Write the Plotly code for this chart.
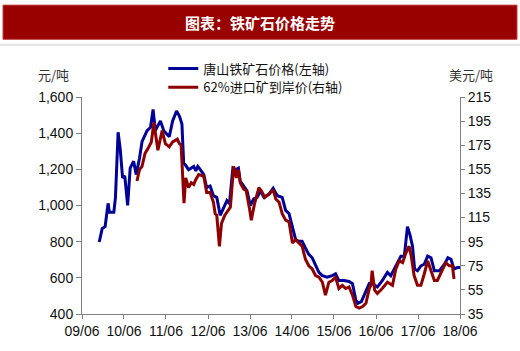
import plotly.graph_objects as go

# Tangshan iron ore price (CNY/t, left axis)
ts_dates = ["2009-10-29","2009-11-24","2009-12-19","2010-01-14","2010-01-25","2010-03-05","2010-03-19",
            "2010-04-11","2010-04-29","2010-05-20","2010-06-08","2010-07-03","2010-07-25","2010-08-24",
            "2010-09-15","2010-10-14","2010-11-05","2010-12-19","2011-01-18","2011-02-09","2011-03-01",
            "2011-04-14","2011-05-13","2011-06-30","2011-07-29","2011-09-01","2011-09-26","2011-10-18",
            "2011-11-02","2011-11-16","2011-12-15","2012-01-29","2012-02-16","2012-03-04","2012-03-26",
            "2012-04-25","2012-05-20","2012-06-19","2012-07-18","2012-08-16","2012-09-15","2012-10-14",
            "2012-11-12","2012-12-04","2013-01-03","2013-01-25","2013-02-20","2013-03-08","2013-04-07",
            "2013-05-06","2013-06-04","2013-07-03","2013-08-02","2013-09-01","2013-09-30","2013-11-13",
            "2013-12-19","2014-01-25","2014-03-08","2014-04-07","2014-05-06","2014-06-05","2014-07-03",
            "2014-07-29","2014-08-28","2014-09-26","2014-10-25","2014-11-24","2014-12-23","2015-01-21",
            "2015-02-20","2015-04-03","2015-05-17","2015-06-15","2015-07-14","2015-08-27","2015-10-10",
            "2015-11-09","2015-12-08","2015-12-26","2016-01-25","2016-03-05","2016-04-03","2016-04-28",
            "2016-06-12","2016-07-25","2016-09-08","2016-10-07","2016-11-06","2016-12-05","2017-01-03",
            "2017-02-02","2017-03-01","2017-03-23","2017-04-14","2017-05-02","2017-05-27","2017-06-26",
            "2017-07-25","2017-08-24","2017-09-22","2017-10-21","2017-12-04","2018-01-17","2018-02-16",
            "2018-03-15","2018-04-10","2018-05-09","2018-06-01"]
ts_values = [798,873,883,1012,963,963,1045,
             1405,1315,1153,1163,1001,1207,1245,
             1171,1261,1353,1414,1433,1531,1414,
             1468,1414,1380,1468,1522,1495,1450,
             1234,1225,1198,1216,1192,1216,1198,
             1171,1099,1108,1054,1045,946,991,
             1027,1009,1207,1198,1207,1135,1108,
             1081,1000,1036,1045,1081,1045,1063,
             1095,1054,1045,973,955,883,811,
             802,802,765,730,711,666,630,
             612,603,612,622,585,585,580,
             568,477,459,468,522,568,568,
             549,585,630,612,649,693,720,
             720,883,838,775,649,639,666,
             675,720,711,639,639,675,711,
             702,649,657,657]

# 62% imported ore port price (USD/t, right axis)
im_dates = ["2010-09-22","2010-10-14","2010-11-05","2010-12-01","2011-01-03","2011-01-25","2011-02-16",
            "2011-03-01","2011-03-23","2011-04-29","2011-05-27","2011-06-30","2011-07-29","2011-09-08",
            "2011-09-26","2011-10-11","2011-10-21","2011-11-05","2011-11-20","2011-12-15","2012-01-07",
            "2012-01-29","2012-02-16","2012-03-12","2012-04-25","2012-05-20","2012-06-19","2012-07-18",
            "2012-08-02","2012-08-16","2012-09-08","2012-09-26","2012-10-25","2012-11-24","2012-12-12",
            "2013-01-10","2013-02-02","2013-02-20","2013-03-08","2013-04-07","2013-04-29","2013-05-28",
            "2013-06-12","2013-07-10","2013-08-17","2013-09-08","2013-10-07","2013-11-13","2013-12-19",
            "2014-01-11","2014-02-09","2014-03-08","2014-04-07","2014-05-06","2014-06-05","2014-07-03",
            "2014-07-29","2014-08-28","2014-09-26","2014-10-25","2014-11-24","2014-12-23","2015-01-21",
            "2015-02-20","2015-03-19","2015-04-18","2015-05-17","2015-06-15","2015-07-14","2015-08-13",
            "2015-09-11","2015-10-10","2015-11-09","2015-12-08","2016-01-07","2016-02-05","2016-03-05",
            "2016-04-03","2016-04-17","2016-04-28","2016-05-20","2016-06-12","2016-07-25","2016-09-08",
            "2016-10-22","2016-11-20","2016-12-19","2017-01-18","2017-02-16","2017-03-15","2017-04-03",
            "2017-04-28","2017-05-27","2017-06-26","2017-07-25","2017-08-24","2017-09-22","2017-10-21",
            "2017-11-16","2017-12-30","2018-01-29","2018-02-27","2018-03-27","2018-04-10"]
im_values = [145.3,154.7,157.4,168.2,173.6,177.7,193.9,
             184.4,170.9,187.1,176.3,173.6,177.7,180.0,
             176.3,175.0,158.7,126.9,147.9,139.8,143.9,
             142.5,146.6,150.6,149.3,135.8,135.8,127.7,
             118.2,116.9,91.2,110.1,116.9,120.9,123.6,
             157.4,147.9,154.7,143.9,138.5,137.2,122.2,
             112.8,126.3,139.8,137.2,131.7,134.4,138.0,
             130.4,127.7,118.2,112.8,111.5,93.9,96.6,
             93.9,91.2,80.4,75.0,72.3,66.9,65.5,
             61.4,50.6,61.4,62.8,65.5,56.1,58.8,
             56.1,57.4,50.6,41.2,39.9,41.2,43.9,
             56.1,58.8,70.9,54.7,52.0,56.1,61.4,
             58.8,72.3,79.0,77.6,85.8,91.2,83.1,
             66.9,58.8,58.8,68.2,79.0,70.9,62.8,
             62.8,72.3,77.6,75.0,75.0,64.0]

x_tickvals = ["2009-06-01","2010-06-01","2011-06-01","2012-06-01","2013-06-01",
              "2014-06-01","2015-06-01","2016-06-01","2017-06-01","2018-06-01"]
x_ticktext = ["09/06","10/06","11/06","12/06","13/06","14/06","15/06","16/06","17/06","18/06"]
left_ticks = [400,600,800,1000,1200,1400,1600]
right_ticks = [35,55,75,95,115,135,155,175,195,215]

series_names = ["唐山铁矿石价格(左轴)", "62%进口矿到岸价(右轴)"]
title_text = "图表：铁矿石价格走势"

BLUE = "#000096"
RED = "#8c0000"
CJK = "Noto Sans CJK SC"
LAT = "Liberation Sans, Arial"

fig = go.Figure()
fig.add_trace(go.Scatter(x=ts_dates, y=ts_values, mode="lines", name=series_names[0],
                         line=dict(color=BLUE, width=3), legend="legend"))
fig.add_trace(go.Scatter(x=im_dates, y=im_values, mode="lines", name=series_names[1],
                         line=dict(color=RED, width=3), yaxis="y2", legend="legend2"))

legend_common = dict(orientation="v", xanchor="left", yanchor="middle", bgcolor="rgba(0,0,0,0)",
                     borderwidth=0, font=dict(family=CJK + ", " + LAT, size=13, color="#111"),
                     itemwidth=30, tracegroupgap=0)

fig.update_layout(
    width=520, height=351,
    margin=dict(l=82, r=60, t=97, b=32),
    paper_bgcolor="white", plot_bgcolor="white",
    showlegend=True,
    legend=dict(x=0.215, y=(319-68)/222, **legend_common),
    legend2=dict(x=0.215, y=(319-87)/222, **legend_common),
    xaxis=dict(type="date", range=["2009-06-01", "2018-06-01"], tickvals=x_tickvals, ticktext=x_ticktext,
               showgrid=False, zeroline=False, showline=True, linecolor="#808080", linewidth=1,
               ticks="outside", ticklen=4, tickcolor="#808080",
               tickfont=dict(family=LAT, size=14, color="#111")),
    yaxis=dict(range=[400, 1600], tickvals=left_ticks, tickformat=",", showgrid=False, zeroline=False,
               showline=True, linecolor="#808080", linewidth=1, ticks="outside", ticklen=5,
               tickcolor="#808080", tickfont=dict(family=LAT, size=14, color="#111")),
    yaxis2=dict(range=[35, 215], tickvals=right_ticks, overlaying="y", side="right", showgrid=False,
                zeroline=False, showline=True, linecolor="#808080", linewidth=1, ticks="outside",
                ticklen=4, tickcolor="#808080", tickfont=dict(family=LAT, size=14, color="#111")),
    shapes=[
        dict(type="rect", xref="paper", yref="paper", x0=-79/378, x1=435/378,
             y0=(319-38)/222, y1=(319-3)/222, fillcolor="#990000", line=dict(color="#c04040", width=1),
             layer="below"),
        dict(type="line", xref="paper", yref="paper", x0=-82/378, x1=438/378,
             y0=(319-43.5)/222, y1=(319-43.5)/222, line=dict(color="#e2e2e2", width=2)),
    ],
    annotations=[
        dict(text="<b>" + title_text + "</b>", xref="paper", yref="paper", x=(260-82)/378,
             y=(319-21)/222, xanchor="center", yanchor="middle", showarrow=False,
             font=dict(family=CJK, size=15, color="white")),
        dict(text="元/吨", xref="paper", yref="paper", x=(53-82)/378, y=(319-74)/222,
             xanchor="center", yanchor="middle", showarrow=False,
             font=dict(family=CJK, size=13, color="#333")),
        dict(text="美元/吨", xref="paper", yref="paper", x=(471-82)/378, y=(319-74)/222,
             xanchor="center", yanchor="middle", showarrow=False,
             font=dict(family=CJK, size=13, color="#333")),
    ],
)

fig.write_html("out.html")
